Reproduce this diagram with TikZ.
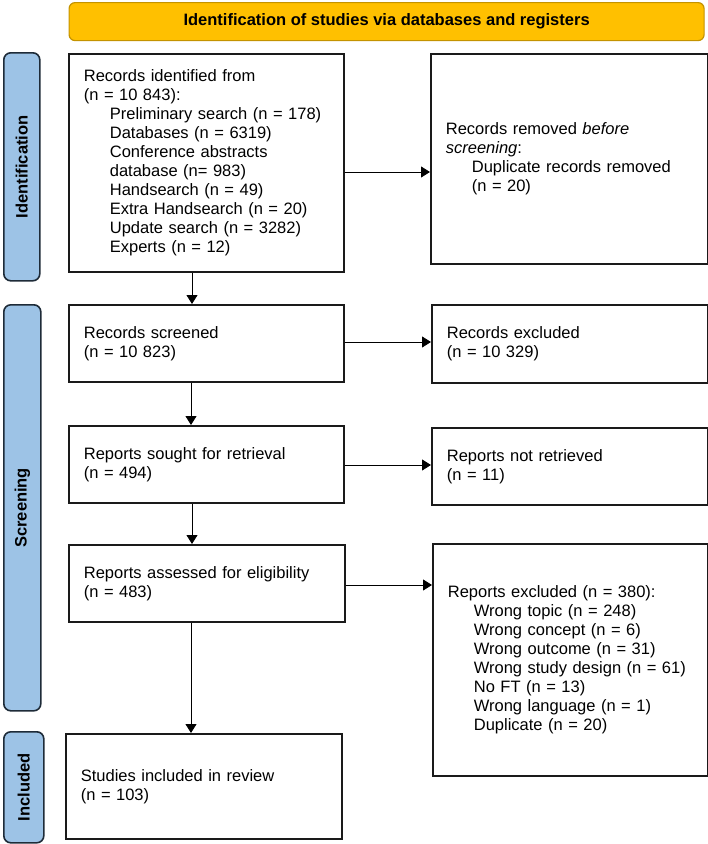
\documentclass[tikz,border=0pt]{standalone}
\usepackage{fontspec}
\setmainfont{Liberation Sans}
\usetikzlibrary{arrows.meta}
\definecolor{hdrfill}{HTML}{FFC000}
\definecolor{hdrdraw}{HTML}{C49300}
\definecolor{barfill}{HTML}{9DC3E6}
\definecolor{bardraw}{HTML}{1E2B38}
\definecolor{boxdraw}{HTML}{1A1A1A}
\newcommand{\ind}{\hspace*{26pt}}
\begin{document}
\begin{tikzpicture}[x=1pt,y=-1pt,
  box/.style={draw=boxdraw, line width=1.7pt, anchor=north west, inner xsep=15pt, inner ysep=0pt, align=left, font=\fontsize{16.5}{19}\selectfont},
  sidebar/.style={draw=bardraw, fill=barfill, line width=1.6pt, rounded corners=7pt, anchor=north west, inner sep=0pt},
  barlabel/.style={rotate=90, inner sep=0pt, font=\bfseries\fontsize{16.5}{19}\selectfont},
  arr/.style={-{Triangle[length=9pt,width=11pt]}, line width=0.8pt, draw=black}
]
\useasboundingbox (0,0) rectangle (708,844);

% header
\node[draw=hdrdraw, fill=hdrfill, rounded corners=6pt, line width=1.2pt, minimum width=635pt, minimum height=38pt, anchor=north west, inner sep=0pt, font=\bfseries\fontsize{16.5}{19}\selectfont] (hdr) at (68.5,2) {Identification of studies via databases and registers};

% side bars
\node[sidebar, minimum width=36pt, minimum height=228pt] (bid) at (3,52) {};
\node[barlabel] (lid) at (bid.center) {Identification};
\node[sidebar, minimum width=37pt, minimum height=406pt] (bscr) at (3,304) {};
\node[barlabel] (lscr) at (bscr.center) {Screening};
\node[sidebar, minimum width=40pt, minimum height=111pt] (binc) at (3,731) {};
\node[barlabel] (linc) at (binc.center) {Included};

% boxes
\node[box, minimum width=275pt, minimum height=218pt, text width=245pt] (id) at (68,53) {Records identified from\\(n = 10 843):\\\ind Preliminary search (n = 178)\\\ind Databases (n = 6319)\\\ind Conference abstracts\\\ind database (n= 983)\\\ind Handsearch (n = 49)\\\ind Extra Handsearch (n = 20)\\\ind Update search (n = 3282)\\\ind Experts (n = 12)};

\node[box, minimum width=277pt, minimum height=210pt, text width=247pt] (rem) at (430,53) {Records removed \textit{before}\\\textit{screening}:\\\ind Duplicate records removed\\\ind (n = 20)};

\node[box, minimum width=275pt, minimum height=77pt, text width=245pt] (scr) at (68,304) {Records screened\\(n = 10 823)};
\node[box, minimum width=276pt, minimum height=78pt, text width=246pt] (exc) at (431,304) {Records excluded\\(n = 10 329)};

\node[box, minimum width=275pt, minimum height=77pt, text width=245pt] (sou) at (68,425) {Reports sought for retrieval\\(n = 494)};
\node[box, minimum width=276pt, minimum height=77pt, text width=246pt] (nr) at (431,427) {Reports not retrieved\\(n = 11)};

\node[box, minimum width=276pt, minimum height=77pt, text width=246pt] (ass) at (68,544) {Reports assessed for eligibility\\(n = 483)};
\node[box, minimum width=275pt, minimum height=232pt, text width=245pt] (rex) at (432,543) {Reports excluded (n = 380):\\\ind Wrong topic (n = 248)\\\ind Wrong concept (n = 6)\\\ind Wrong outcome (n = 31)\\\ind Wrong study design (n = 61)\\\ind No FT (n = 13)\\\ind Wrong language (n = 1)\\\ind Duplicate (n = 20)};

\node[box, minimum width=276pt, minimum height=105pt, text width=246pt] (inc) at (65,733) {Studies included in review\\(n = 103)};

% connectors
\draw[arr] ([xshift=124pt]id.south west) -- ([xshift=124pt]scr.north west);
\draw[arr] ([xshift=123pt]scr.south west) -- ([xshift=123pt]sou.north west);
\draw[arr] ([xshift=124pt]sou.south west) -- ([xshift=124pt]ass.north west);
\draw[arr] ([xshift=123pt]ass.south west) -- ([xshift=126pt]inc.north west);

\draw[arr] (id.east |- 0,172) -- (rem.west |- 0,172);
\draw[arr] (scr.east |- 0,342) -- (exc.west |- 0,342);
\draw[arr] (sou.east |- 0,465) -- (nr.west |- 0,465);
\draw[arr] (ass.east |- 0,585) -- (rex.west |- 0,585);
\end{tikzpicture}
\end{document}
